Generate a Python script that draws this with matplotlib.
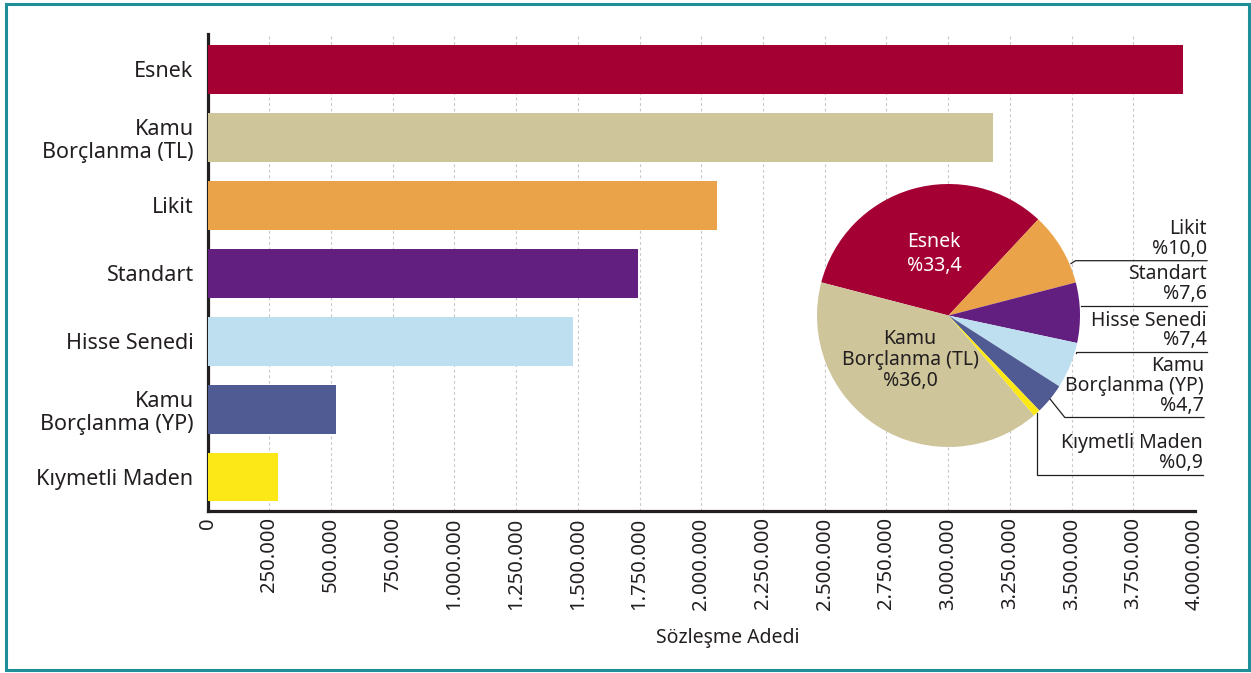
import matplotlib
matplotlib.use('Agg')
import matplotlib.pyplot as plt
import numpy as np
from matplotlib.patches import Rectangle

plt.rcParams['font.family'] = ['Noto Sans', 'DejaVu Sans']

# ---------------- data ----------------
categories = ['Esnek', 'Kamu\nBorçlanma (TL)', 'Likit', 'Standart',
              'Hisse Senedi', 'Kamu\nBorçlanma (YP)', 'Kıymetli Maden']
contracts = [3950000, 3182000, 2064000, 1744000, 1480000, 520000, 285000]
bar_colors = ['#A50034', '#CEC59A', '#EBA34A', '#621F7F', '#BEDFEF', '#4F5B92', '#FDE817']

xticks = [0, 250000, 500000, 750000, 1000000, 1250000, 1500000, 1750000, 2000000,
          2250000, 2500000, 2750000, 3000000, 3250000, 3500000, 3750000, 4000000]
xtick_labels = ['0', '250.000', '500.000', '750.000', '1.000.000', '1.250.000',
                '1.500.000', '1.750.000', '2.000.000', '2.250.000', '2.500.000',
                '2.750.000', '3.000.000', '3.250.000', '3.500.000', '3.750.000',
                '4.000.000']
xlabel = 'Sözleşme Adedi'

# pie: slice sizes as drawn in the picture, and the printed percentage labels
pie_labels = ['Esnek', 'Likit', 'Standart', 'Hisse Senedi', 'Kamu\nBorçlanma (YP)',
              'Kıymetli Maden', 'Kamu\nBorçlanma (TL)']
pie_slice_sizes = [32.9, 9.0, 7.4, 5.7, 3.8, 0.9, 40.3]
pie_pct_labels = ['%33,4', '%10,0', '%7,6', '%7,4', '%4,7', '%0,9', '%36,0']
pie_colors = ['#A50034', '#EBA34A', '#621F7F', '#BEDFEF', '#4F5B92', '#FDE817', '#CEC59A']

# ---------------- layout ----------------
W, H = 1251, 673
TXT = '#231F20'
fig = plt.figure(figsize=(W / 100, H / 100), dpi=100)

ax_l, ax_r, ax_t, ax_b = 207.5, 1195, 34, 511
ax = fig.add_axes([ax_l / W, 1 - ax_b / H, (ax_r - ax_l) / W, (ax_b - ax_t) / H])
y = np.arange(len(categories))
ax.barh(y, contracts, height=0.72, color=bar_colors, zorder=3)
ax.set_xlim(0, 4000000)
ax.set_ylim(6.5, -0.52)
ax.set_xticks(xticks)
ax.set_xticklabels(xtick_labels, rotation=90, fontsize=14.5, color=TXT)
ax.set_yticks(y)
ax.set_yticklabels(categories, fontsize=15.5, color=TXT, multialignment='right',
                   linespacing=1.15)
ax.tick_params(axis='x', length=0, pad=4.5)
ax.tick_params(axis='y', length=0, pad=10)
for s in ['top', 'right']:
    ax.spines[s].set_visible(False)
for s in ['left', 'bottom']:
    ax.spines[s].set_linewidth(2.3)
    ax.spines[s].set_color(TXT)
ax.grid(axis='x', color='#C8C8C8', linestyle=(0, (2.5, 2.5)), linewidth=0.8, zorder=0)
ax.set_axisbelow(True)
ax.set_xlabel(xlabel, fontsize=14, color=TXT)
ax.xaxis.set_label_coords((728 - ax_l) / (ax_r - ax_l), (ax_b - 638) / (ax_b - ax_t))
ax.xaxis.label.set_va('center')

# ---------------- pie inset ----------------
cx, cy, R = 948.5, 315.5, 131.5
axp = fig.add_axes([(cx - R) / W, 1 - (cy + R) / H, 2 * R / W, 2 * R / H])
wedges, _ = axp.pie(pie_slice_sizes, colors=pie_colors, startangle=165.4,
                    counterclock=False, radius=1, wedgeprops=dict(linewidth=0))
axp.set_xlim(-1, 1)
axp.set_ylim(-1, 1)
axp.set_aspect('equal')
axp.axis('off')

# inner labels (Esnek, Kamu TL)
axp.text((934 - cx) / R, (cy - 254) / R, pie_labels[0] + '\n' + pie_pct_labels[0],
         ha='center', va='center', fontsize=14, color='white', linespacing=1.25)
axp.text((910 - cx) / R, (cy - 360) / R, pie_labels[6] + '\n' + pie_pct_labels[6],
         ha='center', va='center', fontsize=14, color=TXT, linespacing=1.05)

# outer labels with leader lines (overlay in pixel coords)
ov = fig.add_axes([0, 0, 1, 1])
ov.set_xlim(0, W)
ov.set_ylim(H, 0)
ov.axis('off')
ov.patch.set_visible(False)

line_y = {1: 260.7, 2: 306, 3: 352.2, 4: 417.5, 5: 475}
elbow_dy = {1: 3.5, 2: 0.0, 3: 0.0}
text_x = {1: 1207, 2: 1207, 3: 1207, 4: 1204, 5: 1203}

for i in range(1, 6):
    w = wedges[i]
    t1, t2 = w.theta1, w.theta2
    yl = line_y[i]
    if i <= 3:
        ya = yl + elbow_dy[i]
        ang = np.degrees(np.arcsin(np.clip((cy - ya) / R, -1, 1)))
        ang = min(max(ang, t1 + 0.5), t2 - 0.5)
        ax0 = cx + (R + 1.5) * np.cos(np.radians(ang))
        ay0 = cy - (R + 1.5) * np.sin(np.radians(ang))
        xs = [ax0, ax0 + elbow_dy[i] * 1.3, text_x[i]]
        ys = [ay0, yl, yl]
    elif i == 4:
        ang = (t1 + t2) / 2
        ax0 = cx + R * np.cos(np.radians(ang))
        ay0 = cy - R * np.sin(np.radians(ang))
        xs = [ax0, ax0 + (yl - ay0) * 0.8, text_x[i]]
        ys = [ay0, yl, yl]
    else:
        ang = (t1 + t2) / 2
        ax0 = cx + R * np.cos(np.radians(ang))
        ay0 = cy - R * np.sin(np.radians(ang))
        xs = [ax0, ax0, text_x[i]]
        ys = [ay0, yl, yl]
    ov.plot(xs, ys, color=TXT, linewidth=0.9, solid_joinstyle='miter')
    ov.text(text_x[i], yl - 2, pie_labels[i] + '\n' + pie_pct_labels[i],
            ha='right', va='bottom', fontsize=14, color=TXT, linespacing=0.98,
            multialignment='right')

# frame border
fig.patches.append(Rectangle((5.5 / W, 3.5 / H), (1249.3 - 5.5) / W, (669.5 - 3.5) / H,
                             transform=fig.transFigure, fill=False,
                             edgecolor='#1E8E98', linewidth=2.2))

fig.savefig('out.png', dpi=100)
